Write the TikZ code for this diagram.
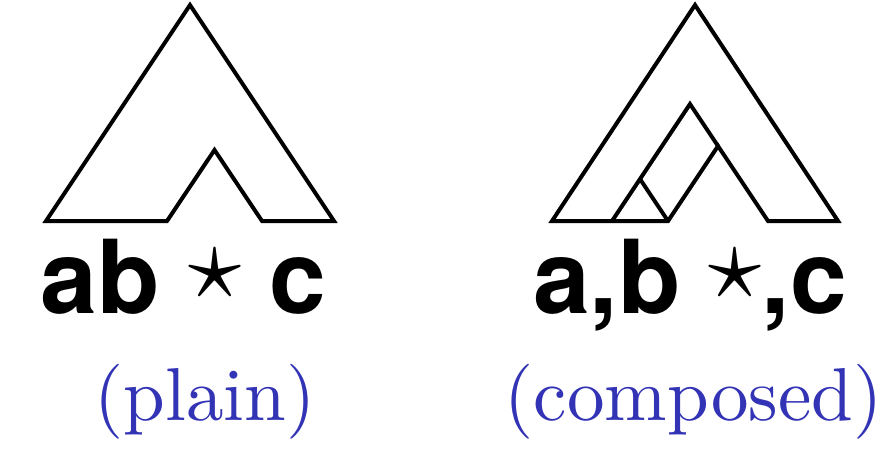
\documentclass[tikz,border=0pt]{standalone}
\usepackage{fontspec}
\usepackage{xcolor}
\usepackage{graphicx}
\usetikzlibrary{positioning}
\newfontfamily\heros{TeX Gyre Heros}
\newfontfamily\lmten{lmroman10-regular.otf}
\newcommand{\opstar}{\raisebox{7.5pt}{\scalebox{5.3}{\fontsize{10}{12}\selectfont$\star$}}}
\definecolor{lblblue}{RGB}{51,51,181}

\begin{document}
\begin{tikzpicture}[
    x=0.5pt, y=-0.5pt,
    tree/.style={draw=black, line width=2pt, line join=miter},
    word/.style={font=\heros\bfseries\fontsize{51}{61}\selectfont,
                 inner sep=0pt, anchor=base},
    kind/.style={font=\lmten\fontsize{37.5}{45}\selectfont, color=lblblue,
                 inner sep=0pt, anchor=base},
  ]
  \useasboundingbox (0,0) rectangle (881,451);

  % plain tree
  \coordinate (pl) at (46,221);
  \coordinate (ptop) at (190,5);
  \coordinate (pr) at (334,221);
  \draw[tree] (pl) -- (ptop) -- (pr) -- (262,221) -- (214.5,150)
    -- (167,221) -- cycle;

  % composed tree
  \coordinate (cl) at (552,221);
  \coordinate (ctop) at (695,5);
  \coordinate (cr) at (838,221);
  \coordinate (ctip) at (690,104);
  \coordinate (cjoin) at (718,146);
  \coordinate (cfoot) at (668,221);
  \draw[tree] (cl) -- (ctop) -- (cr) -- (768,221) -- (cjoin)
    -- (cfoot) -- cycle;
  \draw[tree] (612,221) -- (ctip) -- (cjoin);
  \draw[tree] (640,179) -- (cfoot);

  % strings
  \node[word] (plainstr) at (183.5,313) {ab \opstar{} c};
  \node[word] (compstr) at (690,313) {a,b \opstar,c};

  % captions
  \node[kind] (plaincap) at (205,420) {(plain)};
  \node[kind] (compcap) at (693.5,420) {(composed)};
\end{tikzpicture}
\end{document}
